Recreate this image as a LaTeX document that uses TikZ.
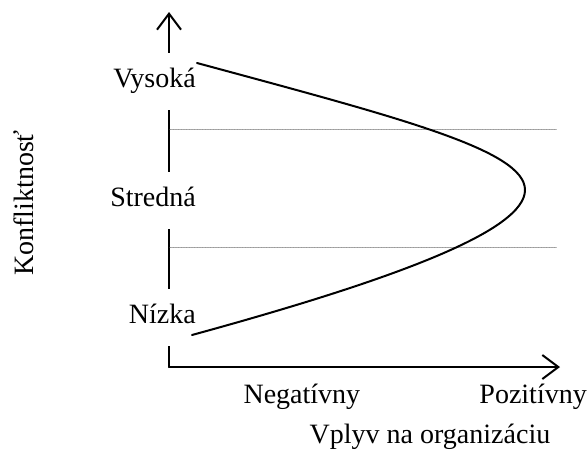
\documentclass[tikz,border=0pt]{standalone}
\usepackage{fontspec}
\setmainfont{Liberation Serif}
\usetikzlibrary{arrows.meta}
\tikzset{
	os/.style={line width=2pt, -{Straight Barb[length=16pt,width=24pt,line width=2pt]}},
	hranica/.style={gray!80, line width=0.6pt, dash pattern=on 0.8pt off 0.8pt},
	uroven/.style={fill=white, inner xsep=1pt, inner ysep=0pt, text height=34pt, text depth=23pt}
}
\begin{document}
\begin{tikzpicture}[x=1pt,y=-1pt,line join=round, line cap=round, font={\fontsize{28pt}{33pt}\selectfont}]
		\useasboundingbox (0,0) rectangle (587,450);
		% osi
		\coordinate (O) at (169,367);
		\coordinate (Yk) at (169,12);
		\coordinate (Xk) at (560,367);
		\draw[os] (O) -- (Yk);
		\draw[os] (O) -- (Xk);
		% urovne konfliktnosti
		\node[uroven, anchor=base east] (vys) at (197,87) {Vysoká};
		\node[uroven, anchor=base east] (str) at (197,206) {Stredná};
		\node[uroven, anchor=base east] (niz) at (197,323) {Nízka};
		% hranice
		\draw[hranica] (170,129) -- (557,129);
		\draw[hranica] (170,247) -- (557,247);
		% krivka
		\draw[line width=2pt] (197,63) .. controls (400,118) and (525,150) .. (525,190)
			.. controls (525,230) and (400,278) .. (192,335);
		% popisy
		\draw (33,203) node[rotate=90, anchor=base] (kon) {Konfliktnosť};
		\draw (240,403) node[anchor=base west] (neg) {Negatívny};
		\draw (587,403) node[anchor=base east, inner xsep=0pt] (poz) {Pozitívny};
		\draw (430,443) node[anchor=base] (vpl) {Vplyv na organizáciu};
	\end{tikzpicture}
\end{document}
